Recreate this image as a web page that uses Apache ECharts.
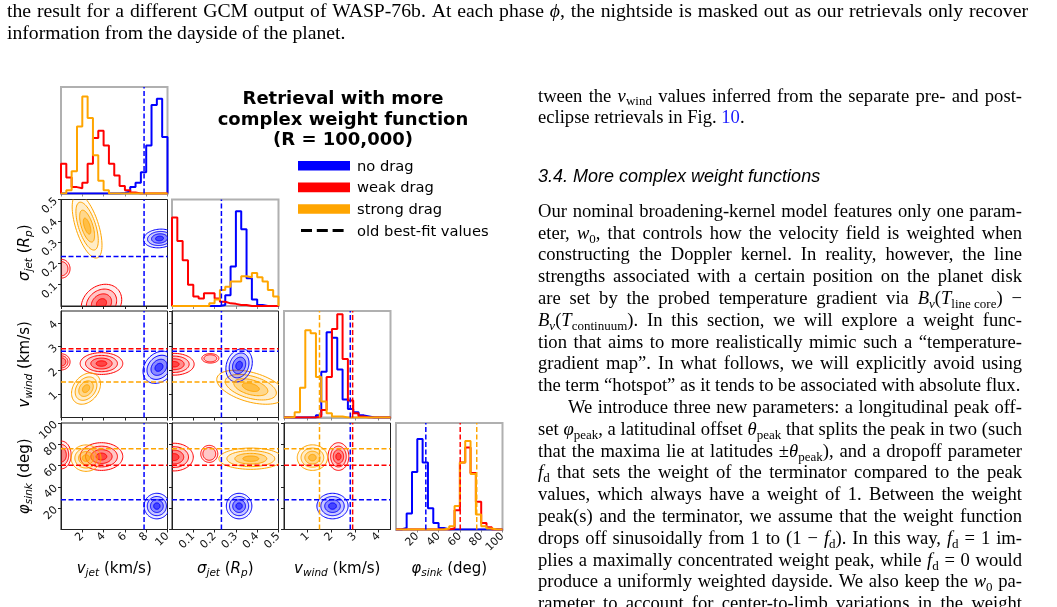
<!DOCTYPE html>
<html>
<head>
<meta charset="utf-8">
<title>Retrieval with more complex weight function</title>
<script src="https://cdn.jsdelivr.net/npm/echarts@6/dist/echarts.min.js"></script>
<style>
  html, body { margin: 0; padding: 0; background: #fff; }
  #chart { width: 1057px; height: 607px; }
</style>
</head>
<body>
<div id="chart"></div>
<script>
// corner plot parameters: v_jet, sigma_jet, v_wind, phi_sink
var paramMin = [0, 0, 0, 0];
var paramMax = [10, 0.5, 4.5, 100];
var paramStep = [2, 0.1, 1, 20];

// colours: no drag, weak drag, strong drag
var dragColors = ['#0000ff', '#ff0000', '#ffa500'];
var dragNames = ['no drag', 'weak drag', 'strong drag'];

// 1D marginals, 20 bins over each axis range (height as fraction of panel)
var vjetNoDrag = [0, 0, 0, 0, 0, 0, 0, 0, 0, 0, 0, 0.005, 0.02, 0.06, 0.1, 0.2, 0.45, 0.83, 0.89, 0.53];
var vjetWeak = [0.28, 0.15, 0.06, 0.05, 0.1, 0.28, 0.52, 0.59, 0.45, 0.28, 0.17, 0.07, 0.03, 0.01, 0, 0, 0, 0, 0, 0];
var vjetStrong = [0, 0.03, 0.21, 0.63, 0.91, 0.71, 0.36, 0.12, 0.03, 0, 0, 0, 0, 0, 0, 0, 0, 0, 0, 0];

var sigjetNoDrag = [0, 0, 0, 0, 0, 0, 0, 0, 0, 0.01, 0.1, 0.37, 0.89, 0.72, 0.26, 0.06, 0.01, 0, 0, 0];
var sigjetWeak = [0.83, 0.61, 0.43, 0.2, 0.09, 0.07, 0.12, 0.12, 0.07, 0.04, 0.025, 0.02, 0.01, 0.01, 0, 0, 0, 0, 0, 0];
var sigjetStrong = [0, 0, 0, 0, 0, 0, 0, 0.025, 0.06, 0.15, 0.18, 0.23, 0.23, 0.28, 0.27, 0.31, 0.27, 0.23, 0.15, 0.09];

var vwindNoDrag = [0, 0, 0, 0, 0, 0, 0.02, 0.43, 0.8, 0.75, 0.45, 0.17, 0.08, 0.05, 0.02, 0.01, 0, 0, 0, 0];
var vwindWeak = [0, 0, 0, 0, 0, 0, 0.01, 0.07, 0.38, 0.83, 0.97, 0.55, 0.16, 0.04, 0.01, 0, 0, 0, 0, 0];
var vwindStrong = [0, 0.005, 0.05, 0.28, 0.82, 0.79, 0.38, 0.15, 0.04, 0.01, 0.01, 0, 0, 0, 0, 0, 0, 0, 0, 0];

var phisinkNoDrag = [0, 0.015, 0.15, 0.54, 0.85, 0.63, 0.2, 0.06, 0.015, 0, 0, 0, 0, 0, 0, 0, 0, 0, 0, 0];
var phisinkWeak = [0, 0, 0, 0, 0, 0, 0, 0, 0, 0, 0.01, 0.18, 0.63, 0.77, 0.53, 0.26, 0.06, 0.02, 0, 0];
var phisinkStrong = [0, 0, 0, 0, 0, 0, 0, 0, 0, 0.01, 0.03, 0.22, 0.63, 0.83, 0.52, 0.14, 0.03, 0.01, 0, 0];

// old best-fit values [no drag, weak drag, strong drag]
var oldBestVjet = [7.8, null, null];
var oldBestSigjet = [0.232, null, null];
var oldBestVwind = [2.8, 2.9, 1.5];
var oldBestPhisink = [28, 60.3, 75.8];

// 2D posteriors: [drag index, centre x, centre y, spread x, spread y, correlation, contour count]
var blobsSigjetVjet = [
  [1, 3.8, 0.012, 0.95, 0.045, 0.2, 4],
  [1, 0.05, 0.175, 0.4, 0.022, 0, 2],
  [2, 2.45, 0.375, 0.7, 0.075, -0.6, 4],
  [0, 9.25, 0.317, 0.75, 0.022, 0.1, 4]
];
var blobsVwindVjet = [
  [1, 3.8, 2.28, 1.0, 0.23, 0, 4],
  [1, 0.05, 2.35, 0.4, 0.17, 0, 3],
  [2, 2.35, 1.22, 0.68, 0.33, 0.3, 4],
  [0, 9.2, 2.12, 0.75, 0.34, 0.25, 4]
];
var blobsVwindSigjet = [
  [1, 0.01, 2.25, 0.047, 0.23, 0, 4],
  [1, 0.18, 2.5, 0.02, 0.1, 0, 2],
  [2, 0.37, 1.28, 0.08, 0.36, -0.45, 4],
  [0, 0.315, 2.2, 0.031, 0.35, 0.2, 4]
];
var blobsPhisinkVjet = [
  [1, 3.8, 68.5, 1.0, 6.5, 0, 4],
  [1, 0.05, 70, 0.45, 6.5, 0, 3],
  [2, 2.35, 67, 0.7, 6.2, 0, 4],
  [0, 9.0, 22, 0.6, 6, 0, 4]
];
var blobsPhisinkSigjet = [
  [1, 0.01, 68, 0.045, 6.5, 0, 4],
  [1, 0.175, 71, 0.02, 4, 0, 2],
  [2, 0.37, 66.5, 0.075, 5, 0, 4],
  [0, 0.315, 22, 0.03, 6, 0, 4]
];
var blobsPhisinkVwind = [
  [1, 2.3, 68.5, 0.22, 6.5, 0, 4],
  [2, 1.2, 67.5, 0.32, 6, 0, 4],
  [0, 2.05, 22, 0.33, 6, 0, 4]
];

var axisTitles = ['$v$_{$jet$} (km/s)', '$σ$_{$jet$} ($R$_{$p$})', '$v$_{$wind$} (km/s)', '$φ$_{$sink$} (deg)'];
var titleLines = ['Retrieval with more', 'complex weight function', '(R = 100,000)'];
var legendLabels = ['no drag', 'weak drag', 'strong drag', 'old best-fit values'];

var captionLines = [
  'the result for a different GCM output of WASP-76b. At each phase $ϕ$, the nightside is masked out as our retrievals only recover',
  'information from the dayside of the planet.'
];
var bodyTop = [
  'tween the $v$_{wind} values inferred from the separate pre- and post-',
  'eclipse retrievals in Fig. @10@.'
];
var heading = '3.4. More complex weight functions';
var bodyMain = [
  'Our nominal broadening-kernel model features only one param-',
  'eter, $w$_{0}, that controls how the velocity field is weighted when',
  'constructing the Doppler kernel. In reality, however, the line',
  'strengths associated with a certain position on the planet disk',
  'are set by the probed temperature gradient via $B$_{$ν$}($T$_{line~core}) −',
  '$B$_{$ν$}($T$_{continuum}). In this section, we will explore a weight func-',
  'tion that aims to more realistically mimic such a “temperature-',
  'gradient map”. In what follows, we will explicitly avoid using',
  'the term “hotspot” as it tends to be associated with absolute flux.',
  'We introduce three new parameters: a longitudinal peak off-',
  'set $φ$_{peak}, a latitudinal offset $θ$_{peak} that splits the peak in two (such',
  'that the maxima lie at latitudes ±$θ$_{peak}), and a dropoff parameter',
  '$f$_{d} that sets the weight of the terminator compared to the peak',
  'values, which always have a weight of 1. Between the weight',
  'peak(s) and the terminator, we assume that the weight function',
  'drops off sinusoidally from 1 to (1 − $f$_{d}). In this way, $f$_{d} = 1 im-',
  'plies a maximally concentrated weight peak, while $f$_{d} = 0 would',
  'produce a uniformly weighted dayside. We also keep the $w$_{0} pa-',
  'rameter to account for center-to-limb variations in the weight'
];

var histByParam = [
  [vjetNoDrag, vjetWeak, vjetStrong],
  [sigjetNoDrag, sigjetWeak, sigjetStrong],
  [vwindNoDrag, vwindWeak, vwindStrong],
  [phisinkNoDrag, phisinkWeak, phisinkStrong]
];
var bestByParam = [oldBestVjet, oldBestSigjet, oldBestVwind, oldBestPhisink];
var blobsByPanel = {
  '1,0': blobsSigjetVjet, '2,0': blobsVwindVjet, '2,1': blobsVwindSigjet,
  '3,0': blobsPhisinkVjet, '3,1': blobsPhisinkSigjet, '3,2': blobsPhisinkVwind
};

// ---------- layout ----------
var colLeft = [61, 172, 284, 396];
var rowTop = [87, 199.5, 311, 423];
var panelSize = 106.5;
var contourRadii = [2, 1.5, 1, 0.5];
var contourFill = [0.07, 0.16, 0.3, 0.5];

function withAlpha(hex, a) {
  var n = parseInt(hex.slice(1), 16);
  return 'rgba(' + (n >> 16) + ',' + ((n >> 8) & 255) + ',' + (n & 255) + ',' + a + ')';
}

function stepData(bins, lo, hi) {
  var w = (hi - lo) / bins.length, pts = [[lo, 0]];
  bins.forEach(function (b, i) {
    pts.push([lo + i * w, b]);
    pts.push([lo + (i + 1) * w, b]);
  });
  pts.push([hi, 0]);
  return pts;
}

function renderBlob(params, api) {
  var col = dragColors[api.value(0)];
  var cx = api.value(1), cy = api.value(2), sx = api.value(3), sy = api.value(4);
  var rho = api.value(5), nl = api.value(6), q = Math.sqrt(1 - rho * rho);
  var children = [];
  for (var j = 0; j < nl; j++) {
    var k = contourRadii[j], pts = [];
    for (var s = 0; s < 72; s++) {
      var a = 2 * Math.PI * s / 72, u = Math.cos(a), v = Math.sin(a);
      pts.push(api.coord([cx + k * sx * u, cy + k * sy * (rho * u + q * v)]));
    }
    children.push({
      type: 'polygon', shape: { points: pts },
      style: { fill: withAlpha(col, contourFill[j]), stroke: col, lineWidth: 1 }
    });
  }
  return { type: 'group', children: children };
}

var grids = [], xAxes = [], yAxes = [], series = [];
var dashStyle = [5, 2.5];
var tickFont = { fontSize: 11, fontFamily: 'DejaVu Sans', color: '#111' };

for (var r = 0; r < 4; r++) {
  for (var c = 0; c <= r; c++) {
    var gi = grids.length;
    var diag = r === c;
    var edge = diag ? '#b0b0b0' : '#222';
    grids.push({
      left: colLeft[c], top: rowTop[r], width: panelSize, height: panelSize,
      show: true, borderColor: edge, borderWidth: diag ? 2 : 1, backgroundColor: '#fff'
    });
    xAxes.push({
      gridIndex: gi, type: 'value', min: paramMin[c], max: paramMax[c], interval: paramStep[c],
      axisLine: { show: true, lineStyle: { color: edge, width: diag ? 2 : 1 } },
      axisTick: { show: true, length: 3, lineStyle: { color: diag ? '#888' : '#222' } },
      splitLine: { show: false },
      axisLabel: Object.assign({
        show: r === 3, rotate: 45, margin: 5, showMinLabel: false, showMaxLabel: c !== 2
      }, tickFont)
    });
    if (diag) {
      yAxes.push({ gridIndex: gi, type: 'value', min: 0, max: 1, show: false });
    } else {
      yAxes.push({
        gridIndex: gi, type: 'value', min: paramMin[r], max: paramMax[r], interval: paramStep[r],
        axisLine: { show: true, lineStyle: { color: edge } },
        axisTick: { show: true, length: 3, lineStyle: { color: '#222' } },
        splitLine: { show: false },
        axisLabel: Object.assign({
          show: c === 0, rotate: 45, margin: 5, showMinLabel: false, showMaxLabel: r !== 2
        }, tickFont)
      });
    }

    if (diag) {
      histByParam[c].forEach(function (bins, k) {
        series.push({
          type: 'line', xAxisIndex: gi, yAxisIndex: gi, name: dragNames[k],
          data: stepData(bins, paramMin[c], paramMax[c]),
          showSymbol: false, symbol: 'none', clip: true, silent: true, z: 3,
          lineStyle: { color: dragColors[k], width: 2 }
        });
      });
      bestByParam[c].forEach(function (v, k) {
        if (v === null) return;
        series.push({
          type: 'line', xAxisIndex: gi, yAxisIndex: gi, data: [[v, 0], [v, 1]],
          showSymbol: false, symbol: 'none', silent: true, z: 4,
          lineStyle: { color: dragColors[k], width: 1.5, type: dashStyle }
        });
      });
    } else {
      series.push({
        type: 'custom', xAxisIndex: gi, yAxisIndex: gi, data: blobsByPanel[r + ',' + c],
        renderItem: renderBlob, clip: true, silent: true, z: 2,
        encode: { x: 1, y: 2 }
      });
      bestByParam[c].forEach(function (v, k) {
        if (v === null) return;
        series.push({
          type: 'line', xAxisIndex: gi, yAxisIndex: gi, data: [[v, paramMin[r]], [v, paramMax[r]]],
          showSymbol: false, symbol: 'none', silent: true, z: 4,
          lineStyle: { color: dragColors[k], width: 1.5, type: dashStyle }
        });
      });
      bestByParam[r].forEach(function (v, k) {
        if (v === null) return;
        series.push({
          type: 'line', xAxisIndex: gi, yAxisIndex: gi, data: [[paramMin[c], v], [paramMax[c], v]],
          showSymbol: false, symbol: 'none', silent: true, z: 4,
          lineStyle: { color: dragColors[k], width: 1.5, type: dashStyle }
        });
      });
    }
  }
}

// ---------- text helpers (page text + math-like labels) ----------
var measureCtx = document.createElement('canvas').getContext('2d');
function cssFont(f) {
  return (f.italic ? 'italic' : 'normal') + ' ' + (f.bold ? 'bold' : 'normal') + ' ' + f.size + 'px ' + f.family;
}
function measure(text, f) { measureCtx.font = cssFont(f); return measureCtx.measureText(text).width; }
function midShift(f) {
  measureCtx.font = cssFont(f);
  measureCtx.textBaseline = 'middle';
  var d = measureCtx.measureText('x').actualBoundingBoxDescent;
  measureCtx.textBaseline = 'alphabetic';
  return d;
}

// $..$ italic, _{..} subscript, @..@ link colour, ~ non-breaking space
function parseRuns(word, cfg) {
  var runs = [], cur = '', italic = false, sub = false, link = false;
  function flush() {
    if (!cur) return;
    var f = { family: cfg.family, size: sub ? cfg.subSize : cfg.size, italic: italic || !!cfg.italic, bold: !!cfg.bold };
    runs.push({ text: cur, font: f, dy: sub ? cfg.subShift : 0, color: link ? '#1a1aff' : (cfg.color || '#000'), w: measure(cur, f) });
    cur = '';
  }
  for (var i = 0; i < word.length; i++) {
    var ch = word[i];
    if (ch === '$') { flush(); italic = !italic; }
    else if (ch === '@') { flush(); link = !link; }
    else if (ch === '_' && word[i + 1] === '{') { flush(); sub = true; i++; }
    else if (ch === '}' && sub) { flush(); sub = false; }
    else if (ch === '~') cur += ' ';
    else cur += ch;
  }
  flush();
  return runs;
}

function textEl(x, y, run) {
  return {
    type: 'text', x: x, y: y + run.dy - midShift(run.font), silent: true,
    style: {
      text: run.text, fill: run.color, fontFamily: run.font.family, fontSize: run.font.size,
      fontStyle: run.font.italic ? 'italic' : 'normal', fontWeight: run.font.bold ? 'bold' : 'normal',
      align: 'left', verticalAlign: 'middle', textAlign: 'left', textVerticalAlign: 'middle'
    }
  };
}

function layoutLine(out, str, x0, x1, yBase, cfg, mode) {
  var words = str.split(' ').map(function (w) { return parseRuns(w, cfg); });
  var widths = words.map(function (rs) { return rs.reduce(function (s, t) { return s + t.w; }, 0); });
  var total = widths.reduce(function (a, b) { return a + b; }, 0);
  var space = measure(' ', { family: cfg.family, size: cfg.size, italic: cfg.italic, bold: cfg.bold });
  var gap = space, x = x0;
  if (mode === 'justify' && words.length > 1) gap = (x1 - x0 - total) / (words.length - 1);
  if (mode === 'center') x = x0 - (total + space * (words.length - 1)) / 2;
  words.forEach(function (rs) {
    rs.forEach(function (run) { out.push(textEl(x, yBase, run)); x += run.w; });
    x += gap;
  });
}

var graphics = [];
var serif = { family: 'Liberation Serif', size: 18.6, subSize: 13, subShift: 3.9, color: '#000' };
var captionSerif = { family: 'Liberation Serif', size: 19.7, subSize: 14, subShift: 4, color: '#000' };

layoutLine(graphics, captionLines[0], 7, 1028, 16.5, captionSerif, 'justify');
layoutLine(graphics, captionLines[1], 7, 1028, 38.5, captionSerif, 'left');

var colL = 538, colR = 1022;
layoutLine(graphics, bodyTop[0], colL, colR, 101.5, serif, 'justify');
layoutLine(graphics, bodyTop[1], colL, colR, 123.3, serif, 'left');
layoutLine(graphics, heading, colL, colR, 181.7, { family: 'Liberation Sans', size: 18, subSize: 12, subShift: 3, italic: true }, 'left');
bodyMain.forEach(function (line, i) {
  var indent = i === 9 ? 30 : 0;
  var last = i === 8;
  layoutLine(graphics, line, colL + indent, colR, 216.8 + i * 21.8, serif, last ? 'left' : 'justify');
});

// figure title
var titleFont = { family: 'DejaVu Sans', size: 18, bold: true, subSize: 12, subShift: 3 };
titleLines.forEach(function (t, i) {
  layoutLine(graphics, t, 343, 343, 104 + i * 20.7, titleFont, 'center');
});

// legend
var legendFont = { family: 'DejaVu Sans', size: 14.7, subSize: 10, subShift: 3 };
legendLabels.forEach(function (t, i) {
  var yc = 165.8 + i * 21.6;
  if (i < 3) {
    graphics.push({ type: 'rect', silent: true, shape: { x: 298, y: yc - 4.8, width: 52, height: 9.6 }, style: { fill: dragColors[i] } });
  } else {
    graphics.push({ type: 'line', silent: true, shape: { x1: 301, y1: yc, x2: 344, y2: yc }, style: { stroke: '#000', lineWidth: 3, lineDash: [11, 4.8] } });
  }
  layoutLine(graphics, t, 357, 357, yc + 5, legendFont, 'left');
});

// axis titles
var labelFont = { family: 'DejaVu Sans', size: 15, subSize: 10.5, subShift: 3 };
for (var k = 0; k < 4; k++) {
  layoutLine(graphics, axisTitles[k], colLeft[k] + panelSize / 2, 0, 573, labelFont, 'center');
}
for (var k2 = 1; k2 < 4; k2++) {
  var kids = [];
  layoutLine(kids, axisTitles[k2], 0, 0, 0, labelFont, 'center');
  graphics.push({ type: 'group', x: 28.5, y: rowTop[k2] + panelSize / 2, rotation: Math.PI / 2, silent: true, children: kids });
}

var chart = echarts.init(document.getElementById('chart'));
chart.setOption({
  animation: false,
  backgroundColor: '#fff',
  grid: grids,
  xAxis: xAxes,
  yAxis: yAxes,
  series: series,
  graphic: { elements: graphics }
});
window.addEventListener('resize', function () { chart.resize(); });
</script>
</body>
</html>
